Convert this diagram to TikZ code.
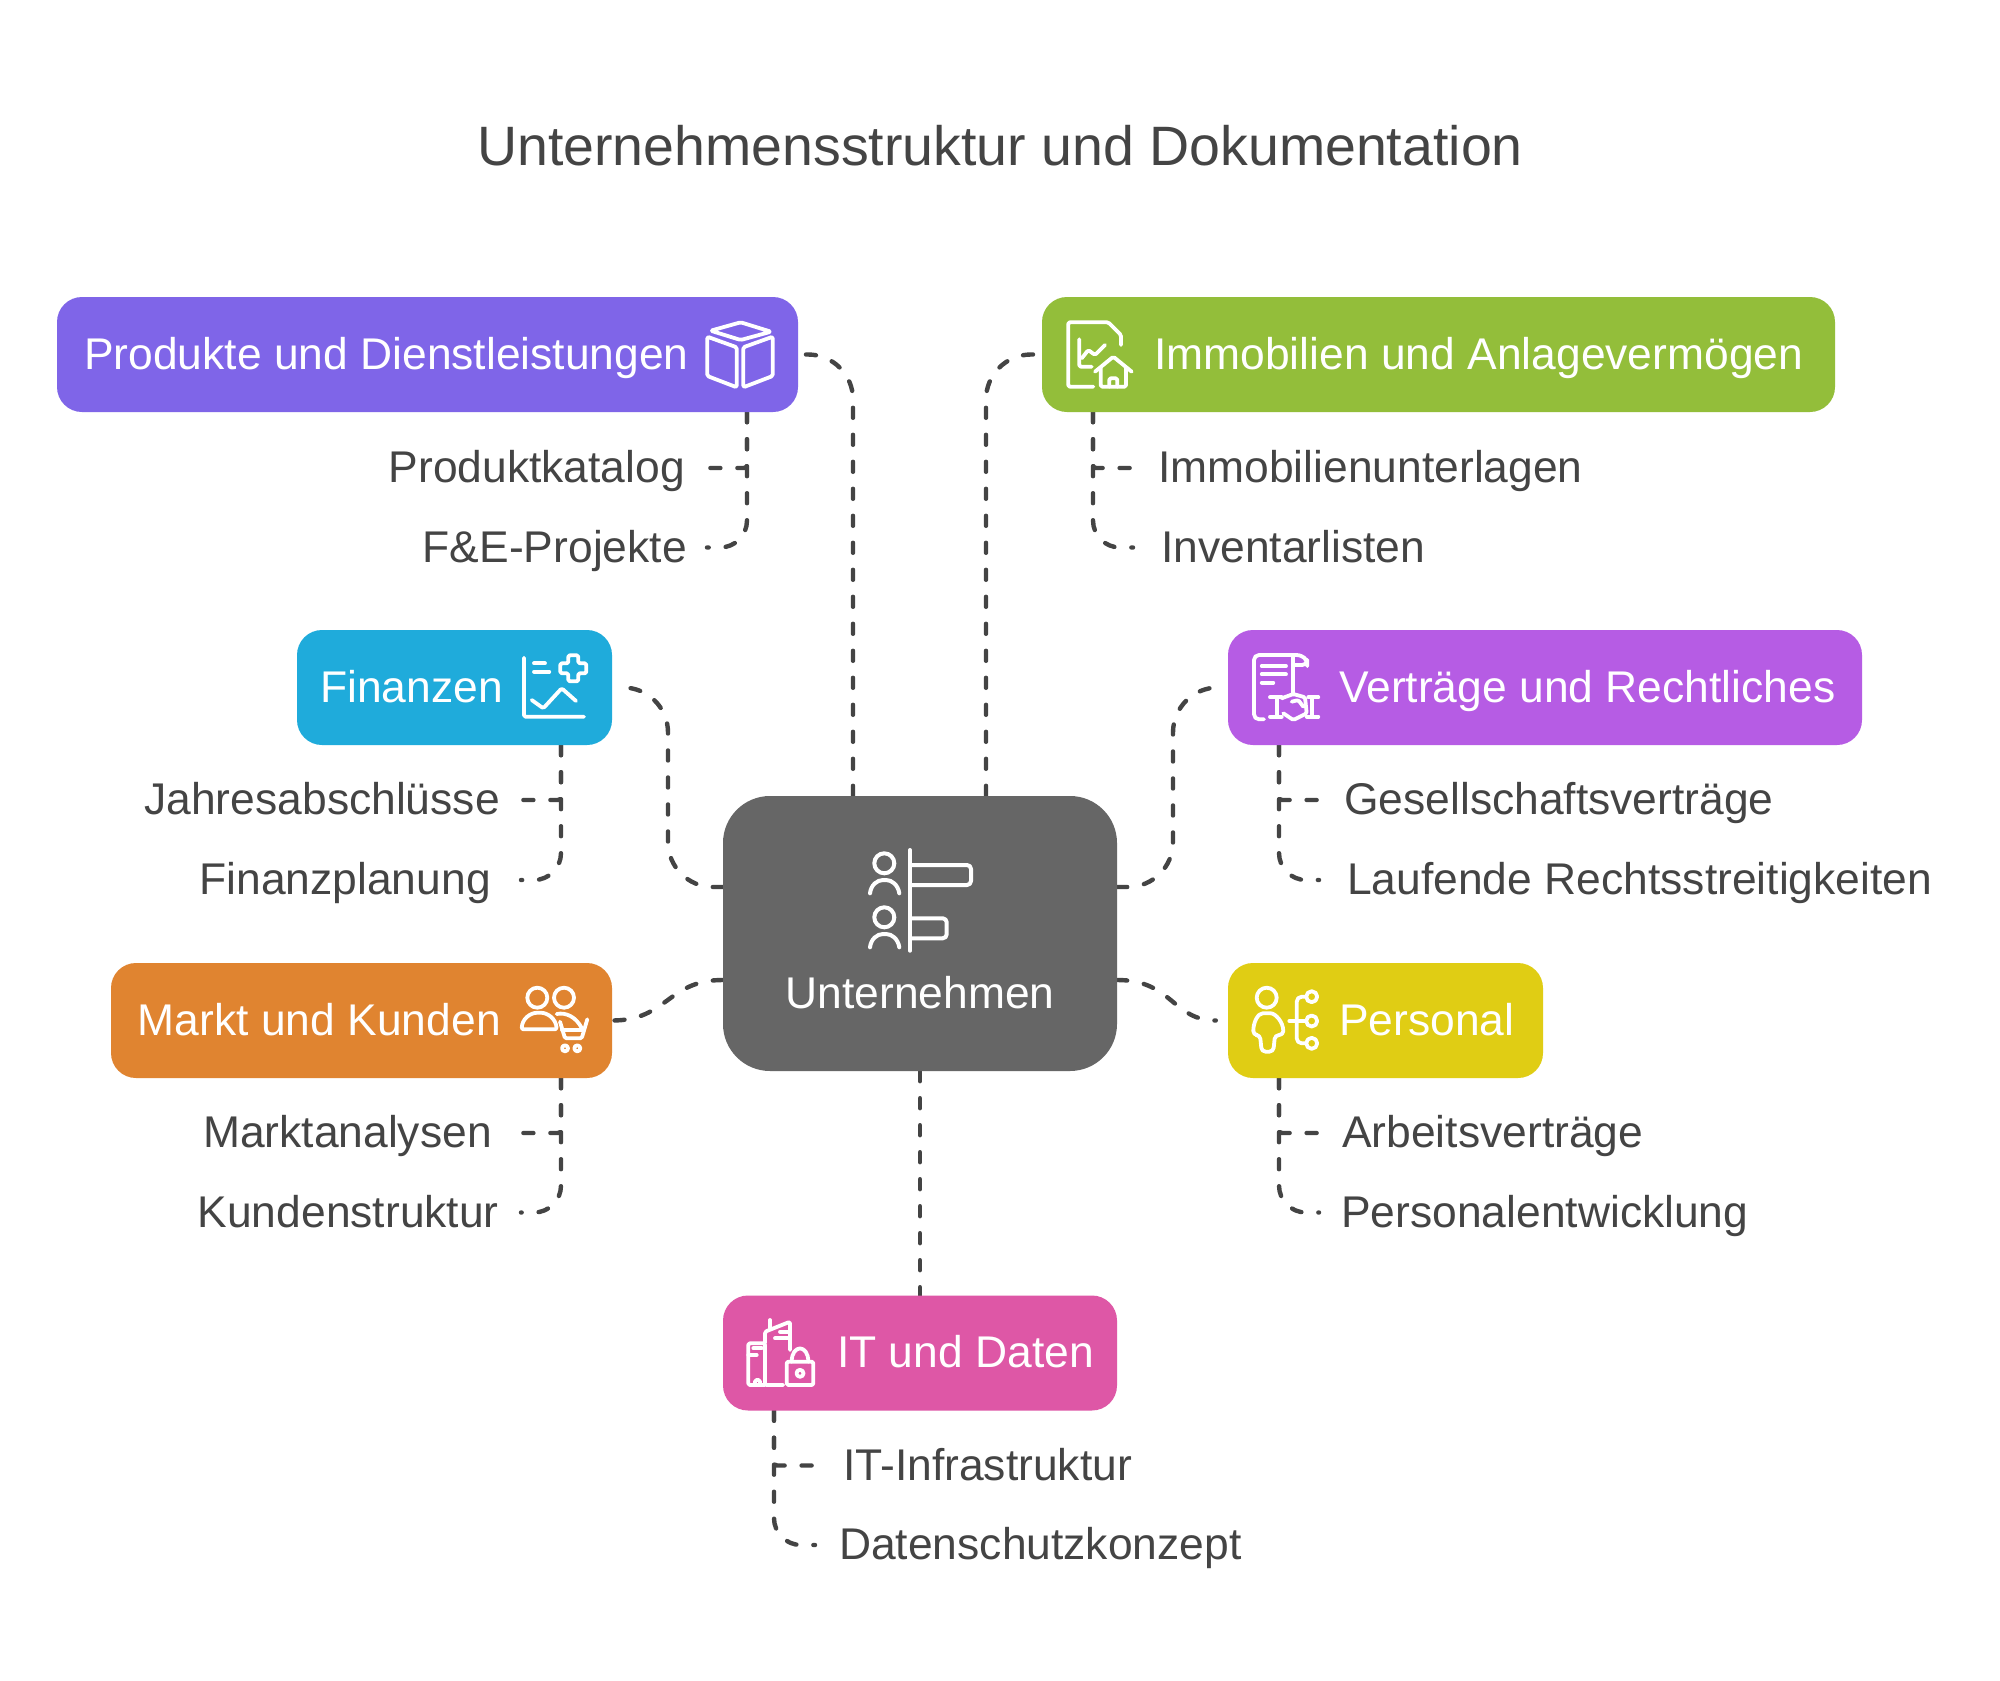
\documentclass[tikz,border=0pt]{standalone}
\usepackage{fontspec}
\setmainfont{Liberation Sans}
\usetikzlibrary{backgrounds}
\definecolor{ink}{HTML}{444444}
\definecolor{hubgray}{HTML}{666666}
\definecolor{prodc}{HTML}{7F65E8}
\definecolor{finc}{HTML}{1FABDB}
\definecolor{markc}{HTML}{E08430}
\definecolor{immoc}{HTML}{93BE3A}
\definecolor{vertc}{HTML}{B65CE4}
\definecolor{persc}{HTML}{E0CD14}
\definecolor{itc}{HTML}{DE57A6}
\tikzset{
  box/.style={rounded corners=25pt,minimum height=115pt,inner sep=0pt},
  lbl/.style={text=ink,font=\fontsize{44.4}{50}\selectfont,text height=38pt,text depth=8.6pt,inner sep=0pt},
  boxlbl/.style={lbl,text=white},
  link/.style={ink,line width=4.4pt,line cap=round,dash pattern=on 10pt off 17pt},
  elbow/.style={link,rounded corners=45pt,shorten >=6pt},
  twig/.style={link,rounded corners=27pt},
  kink/.style={link,rounded corners=3pt},
  ico/.style={white,line width=3.8pt,line cap=round,line join=round,rounded corners=1.5pt}
}
\begin{document}
\begin{tikzpicture}[x=1pt,y=-1pt]
\useasboundingbox (0,0) rectangle (2000,1681);
\node (title) [lbl,font=\fontsize{55.5}{60}\selectfont] at (1000,151) {Unternehmensstruktur und Dokumentation};
\node (hub) [box,fill=hubgray,rounded corners=47pt,minimum width=394pt,minimum height=275pt] at (920,933.5) {};
\node (hubt) [boxlbl] at (920,993.5) {Unternehmen};
\node (prod) [box,fill=prodc,minimum width=741pt] at (427.5,354.5) {};
\node (fin) [box,fill=finc,minimum width=315pt] at (454.5,687.5) {};
\node (mark) [box,fill=markc,minimum width=501pt] at (361.5,1020.5) {};
\node (immo) [box,fill=immoc,minimum width=793pt] at (1438.5,354.5) {};
\node (vert) [box,fill=vertc,minimum width=634pt] at (1545,687.5) {};
\node (pers) [box,fill=persc,minimum width=315pt] at (1385.5,1020.5) {};
\node (it) [box,fill=itc,minimum width=394pt] at (920,1353) {};
\node (prodt) [boxlbl,anchor=east] at (689,354.5) {Produkte und Dienstleistungen};
\node (fint) [boxlbl,anchor=east] at (503,687.5) {Finanzen};
\node (markt) [boxlbl,anchor=east] at (501,1020.5) {Markt und Kunden};
\node (immot) [boxlbl,anchor=west] at (1154,354.5) {Immobilien und Anlagevermögen};
\node (vertt) [boxlbl,anchor=west] at (1339,687.5) {Verträge und Rechtliches};
\node (perst) [boxlbl,anchor=west] at (1339,1020.5) {Personal};
\node (itt) [boxlbl,anchor=west] at (837,1353) {IT und Daten};
\node (katalog) [lbl,anchor=east] at (685,468) {Produktkatalog};
\node (fue) [lbl,anchor=east] at (687,547.5) {F\&E-Projekte};
\node (abschl) [lbl,anchor=east] at (500,800) {Jahresabschlüsse};
\node (planung) [lbl,anchor=east] at (491,880) {Finanzplanung};
\node (analyse) [lbl,anchor=east] at (492,1133) {Marktanalysen};
\node (kunden) [lbl,anchor=east] at (499,1212.5) {Kundenstruktur};
\node (unterl) [lbl,anchor=west] at (1158,468) {Immobilienunterlagen};
\node (invent) [lbl,anchor=west] at (1161,547.5) {Inventarlisten};
\node (gesell) [lbl,anchor=west] at (1344,800) {Gesellschaftsverträge};
\node (recht) [lbl,anchor=west] at (1347,880) {Laufende Rechtsstreitigkeiten};
\node (arbeit) [lbl,anchor=west] at (1342,1133) {Arbeitsverträge};
\node (entw) [lbl,anchor=west] at (1341,1212.5) {Personalentwicklung};
\node (infra) [lbl,anchor=west] at (843,1465.5) {IT-Infrastruktur};
\node (schutz) [lbl,anchor=west] at (839,1545) {Datenschutzkonzept};
\begin{scope}[on background layer]
\fill [white] (0,0) rectangle (2000,1681);
\draw [elbow] (853,0 |- hub.north) |- (prod.east);
\draw [elbow] (986,0 |- hub.north) |- (immo.west);
\draw [elbow] (hub.west |- 0,887) -| (668,687.5) -- (fin.east);
\draw [elbow] (hub.east |- 0,887) -| (1173,687.5) -- (vert.west);
\draw [link] (hub.west |- 0,980) .. controls (667.5,980) and (667.5,1020.5) .. (mark.east);
\draw [link,shorten >=12pt] (hub.east |- 0,980) .. controls (1172.5,980) and (1172.5,1020.5) .. (pers.west);
\draw [link] (hub.south) -- (it.north);
\draw [kink] (747,0 |- prod.south) |- ([xshift=11pt]katalog.east);
\draw [twig] (747,0 |- prod.south) |- ([xshift=20pt]fue.east);
\draw [kink] (561,0 |- fin.south) |- ([xshift=10pt]abschl.east);
\draw [twig] (561,0 |- fin.south) |- ([xshift=30pt]planung.east);
\draw [kink] (561,0 |- mark.south) |- ([xshift=18pt]analyse.east);
\draw [twig] (561,0 |- mark.south) |- ([xshift=22pt]kunden.east);
\draw [kink] (1093,0 |- immo.south) |- ([xshift=-14pt]unterl.west);
\draw [twig] (1093,0 |- immo.south) |- ([xshift=-28pt]invent.west);
\draw [kink] (1279,0 |- vert.south) |- ([xshift=-14pt]gesell.west);
\draw [twig] (1279,0 |- vert.south) |- ([xshift=-28pt]recht.west);
\draw [kink] (1279,0 |- pers.south) |- ([xshift=-12pt]arbeit.west);
\draw [twig] (1279,0 |- pers.south) |- ([xshift=-22pt]entw.west);
\draw [kink] (774,0 |- it.south) |- ([xshift=-18pt]infra.west);
\draw [twig] (774,0 |- it.south) |- ([xshift=-24pt]schutz.west);
\end{scope}
\draw [ico,line width=4pt,rounded corners=4pt] (910,865) -- (971,865) -- (971,885) -- (910,885);
\draw [ico,line width=4pt,rounded corners=4pt] (910,918.3) -- (946.7,918.3) -- (946.7,938.3) -- (910,938.3);
\draw [ico,line width=4pt] (910,850) -- (910,950.7);
\draw [ico,line width=4pt] (884.3,863.3) circle (10pt);
\draw [ico,line width=4pt] (884.3,917.3) circle (10pt);
\draw [ico,line width=4pt] (870,893.3) .. controls (871,885) and (877,880) .. (884.6,880) .. controls (892,880) and (898,885) .. (899.3,893.3);
\draw [ico,line width=4pt] (870,947.3) .. controls (871,939) and (877,934) .. (884.6,934) .. controls (892,934) and (898,939) .. (899.3,947.3);
\draw [ico] (710.7,330.7) -- (740.7,322.3) -- (771,331.7) -- (740.7,340) -- cycle;
\draw [ico] (707.3,336.7) -- (736.7,347.3) -- (736.7,387.3) -- (707.3,376) -- cycle;
\draw [ico] (743.3,347.3) -- (772.7,336.7) -- (772.7,376) -- (743.3,387.3) -- cycle;
\draw [ico] (524,657.7) -- (524,716.7) -- (584,716.7);
\draw [ico] (534,663.3) -- (545,663.3);
\draw [ico] (534,671.7) -- (549.3,671.7);
\draw [ico] (568.3,655.3) -- (578.3,655.3) -- (578.3,663.3) -- (586.3,663.3) -- (586.3,673.3) -- (578.3,673.3) -- (578.3,681.3) -- (568.3,681.3) -- (568.3,673.3) -- (560.3,673.3) -- (560.3,663.3) -- (568.3,663.3) -- cycle;
\draw [ico] (531.7,700) -- (543.3,708.3) -- (561.7,688.3) -- (576,701);
\draw [ico] (537.3,997.7) circle (10pt);
\draw [ico] (564,997.7) circle (10pt);
\draw [ico] (521.7,1029.3) .. controls (522,1019) and (530,1012.7) .. (539,1012.7) .. controls (548,1012.7) and (556,1019) .. (556.7,1029.3) -- cycle;
\draw [ico] (556.7,1014) .. controls (566,1012) and (576,1017) .. (581.7,1028);
\draw [ico] (587.3,1019.3) -- (581.7,1038.3) -- (565,1038.3) -- (560,1021.7);
\draw [ico] (562,1029.7) -- (584,1029.7);
\draw [ico] (565,1048.3) circle (3pt);
\draw [ico] (577.3,1048.3) circle (3pt);
\draw [ico] (1121,345) -- (1121,335) -- (1108.3,322.3) -- (1068.3,322.3) -- (1068.3,386.7) -- (1093.3,386.7);
\draw [ico] (1079.3,339.3) -- (1079.3,366.7) -- (1091.7,366.7);
\draw [ico] (1081.7,358.3) -- (1088.3,350) -- (1095,355) -- (1105,345);
\draw [ico] (1095,371.7) -- (1113.3,356.7) -- (1131.7,371.7);
\draw [ico] (1100.7,368.3) -- (1100.7,386.7) -- (1126,386.7) -- (1126,368.3);
\draw [ico] (1109.3,386.7) -- (1109.3,378.3) -- (1117.3,378.3) -- (1117.3,386.7);
\draw [ico,rounded corners=5pt] (1264,719.3) -- (1254,719.3) -- (1254,655) -- (1301.7,655) -- (1307.3,661) -- (1307.3,665) -- (1295,665);
\draw [ico] (1293.3,656.7) -- (1293.3,693.3);
\draw [ico] (1261.7,666) -- (1286,666);
\draw [ico] (1261.7,674.3) -- (1286,674.3);
\draw [ico] (1261.7,682.7) -- (1273.3,682.7);
\draw [ico] (1270,697.3) -- (1281.7,697.3);
\draw [ico] (1270,716.7) -- (1281.7,716.7);
\draw [ico] (1276.7,697.3) -- (1276.7,716.7);
\draw [ico] (1308.3,697.3) -- (1318.3,697.3);
\draw [ico] (1306.7,716.7) -- (1318.3,716.7);
\draw [ico] (1312.3,697.3) -- (1312.3,716.7);
\draw [ico] (1281.7,698.3) -- (1293.3,694) -- (1305,697.3) -- (1306.7,713.3) -- (1293.3,720) -- (1283.3,713.3);
\draw [ico] (1291.7,701.7) -- (1298.3,700) -- (1303.3,706.7);
\draw [ico] (1266.7,997.7) circle (10pt);
\draw [ico,rounded corners=4pt] (1253.3,1035) .. controls (1253.3,1022) and (1258,1013.3) .. (1266.7,1013.3) .. controls (1275.3,1013.3) and (1283.3,1022) .. (1283.3,1035) -- (1275,1035) -- (1273.3,1051.7) -- (1261.7,1051.7) -- (1260,1035) -- cycle;
\draw [ico] (1289.3,1021) -- (1306,1021);
\draw [ico,rounded corners=5pt] (1306,996.7) -- (1296.7,996.7) -- (1296.7,1043.3) -- (1306,1043.3);
\draw [ico] (1311.7,996.7) circle (5.5pt);
\draw [ico] (1311.7,1021) circle (5.5pt);
\draw [ico] (1311.7,1043.3) circle (5.5pt);
\draw [ico] (765,1385) -- (748.3,1385) -- (748.3,1343.3) -- (765,1343.3) -- (765,1385) -- (783.3,1385);
\draw [ico] (753.3,1348.3) -- (761.7,1348.3);
\draw [ico] (748.3,1355) -- (756.7,1355);
\draw [ico] (755,1385) -- (755,1380) -- (760,1380) -- (760,1385);
\draw [ico] (770,1320) -- (770,1328);
\draw [ico] (765,1343) -- (765,1331.7) -- (790,1321.7) -- (790,1350);
\draw [ico] (775,1338.3) -- (790,1338.3);
\draw [ico] (780,1331.7) -- (790,1331.7);
\draw [ico] (786.7,1361.7) rectangle (813.3,1385);
\draw [ico] (791.7,1361.7) .. controls (791.7,1344) and (808.3,1344) .. (808.3,1361.7);
\draw [ico] (800,1373.3) circle (3.5pt);
\end{tikzpicture}
\end{document}
